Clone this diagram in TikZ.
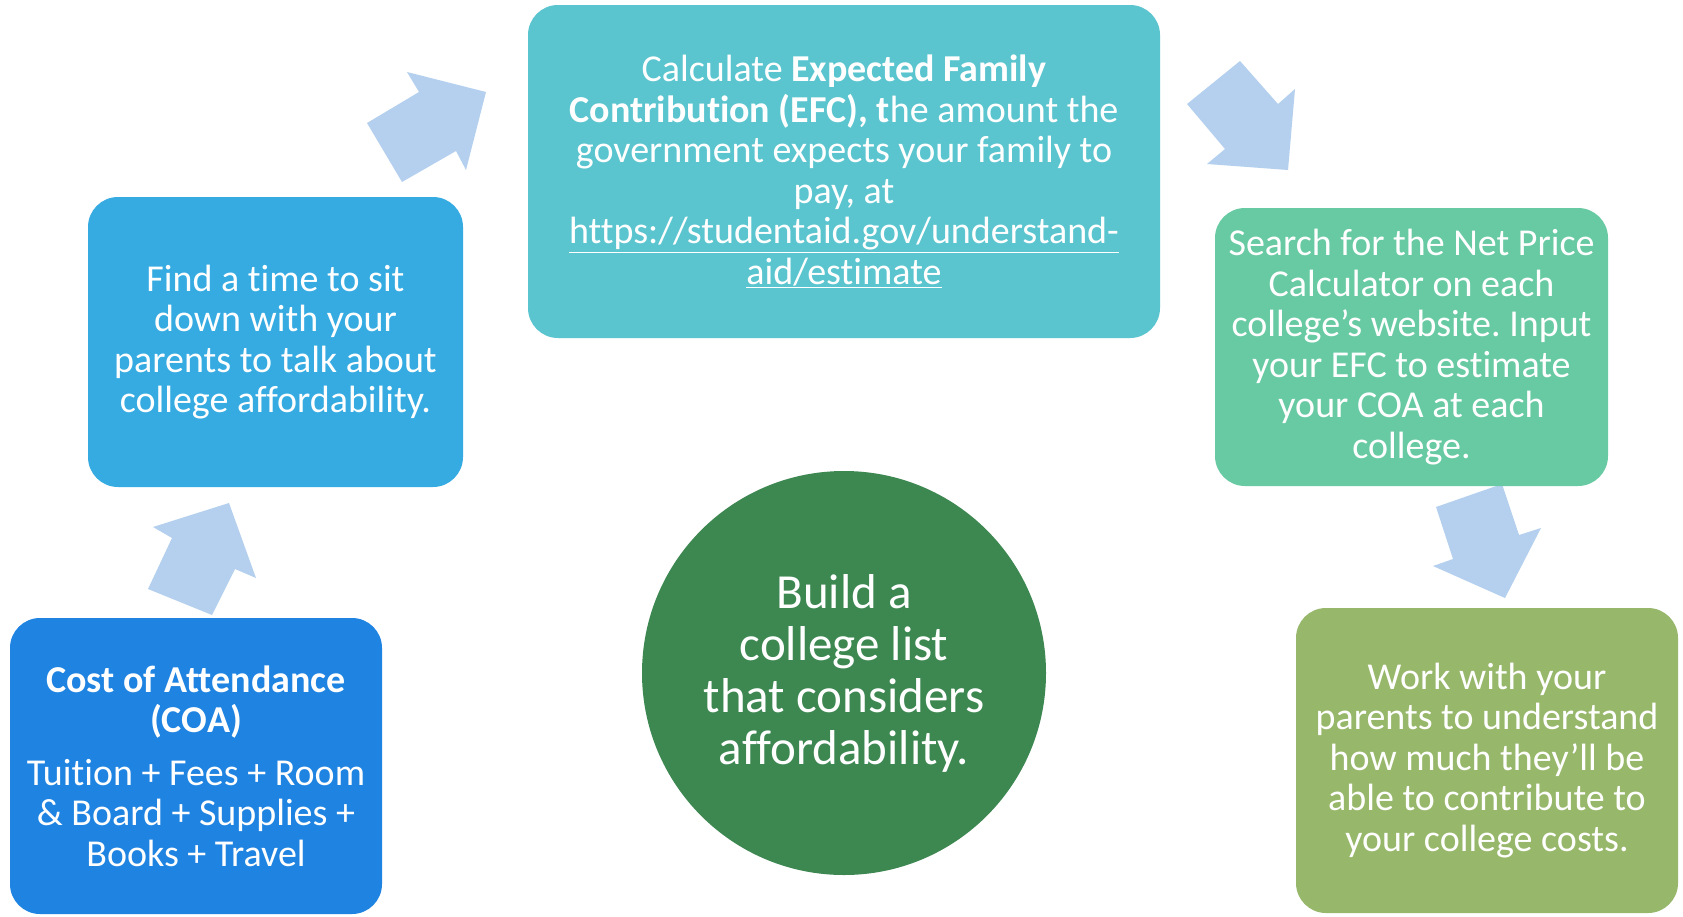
\documentclass[tikz,border=0pt]{standalone}
\usepackage{fontspec}
\setmainfont{Carlito}[Ligatures=NoCommon]
\frenchspacing
\definecolor{coa}{HTML}{1E83E1}
\definecolor{find}{HTML}{35ABE2}
\definecolor{efc}{HTML}{5BC5CF}
\definecolor{npc}{HTML}{68CAA3}
\definecolor{work}{HTML}{97B76A}
\definecolor{circ}{HTML}{3D8751}
\definecolor{arr}{HTML}{B4D0EE}
\tikzset{
  box/.style={rounded corners=30pt, inner sep=0pt, align=center, text=white,
    font=\fontsize{38}{40.5}\selectfont\frenchspacing},
  blockarrow/.style={fill=arr, draw=none}
}
\begin{document}
\begin{tikzpicture}[x=1pt,y=-1pt]
\fill[white] (0,0) rectangle (1683,916);
\useasboundingbox (0,0) rectangle (1683,916);
% arrows
\fill[blockarrow] (229,503) -- (256,578) -- (235,569) -- (212,615) -- (148,589) -- (172,538) -- (153,527) -- cycle;
\fill[blockarrow] (486,92) -- (466,170) -- (456,151) -- (402,182) -- (367,123) -- (419,92) -- (407,72) -- cycle;
\fill[blockarrow] (1288,170) -- (1207,164) -- (1225,149) -- (1187,104) -- (1240,61) -- (1278,104) -- (1295,89) -- cycle;
\fill[blockarrow] (1505,598) -- (1433,566) -- (1453,559) -- (1436,507) -- (1502,484) -- (1519,535) -- (1541,528) -- cycle;
% boxes
\node[box, fill=coa, minimum width=372pt, minimum height=296pt] (coa) at (196,766)
  {\textbf{Cost of Attendance}\\\textbf{(COA)}\\[12pt]Tuition + Fees + Room\\\& Board + Supplies +\\Books + Travel};
\node[box, fill=find, minimum width=375pt, minimum height=290pt] (find) at (275.5,342)
  {Find a time to sit\\down with your\\parents to talk about\\college affordability.};
\node[box, fill=efc, minimum width=632pt, minimum height=333pt] (efc) at (844,171.5)
  {Calculate \textbf{Expected Family}\\\textbf{Contribution (EFC), t}he amount the\\government expects your family to\\pay, at\\\underline{https://studentaid.gov/understand-}\\\underline{aid/estimate}};
\node[box, fill=npc, minimum width=393pt, minimum height=278pt] (npc) at (1411.5,347)
  {Search for the Net Price\\Calculator on each\\college’s website. Input\\your EFC to estimate\\your COA at each\\college.};
\node[box, fill=work, minimum width=382pt, minimum height=305pt] (work) at (1487,760.5)
  {Work with your\\parents to understand\\how much they’ll be\\able to contribute to\\your college costs.};
\node[circle, fill=circ, minimum size=404pt, inner sep=0pt, align=center, text=white,
  font=\fontsize{49}{52}\selectfont] (goal) at (844,673)
  {Build a\\college list\\that considers\\affordability.};
\end{tikzpicture}
\end{document}
